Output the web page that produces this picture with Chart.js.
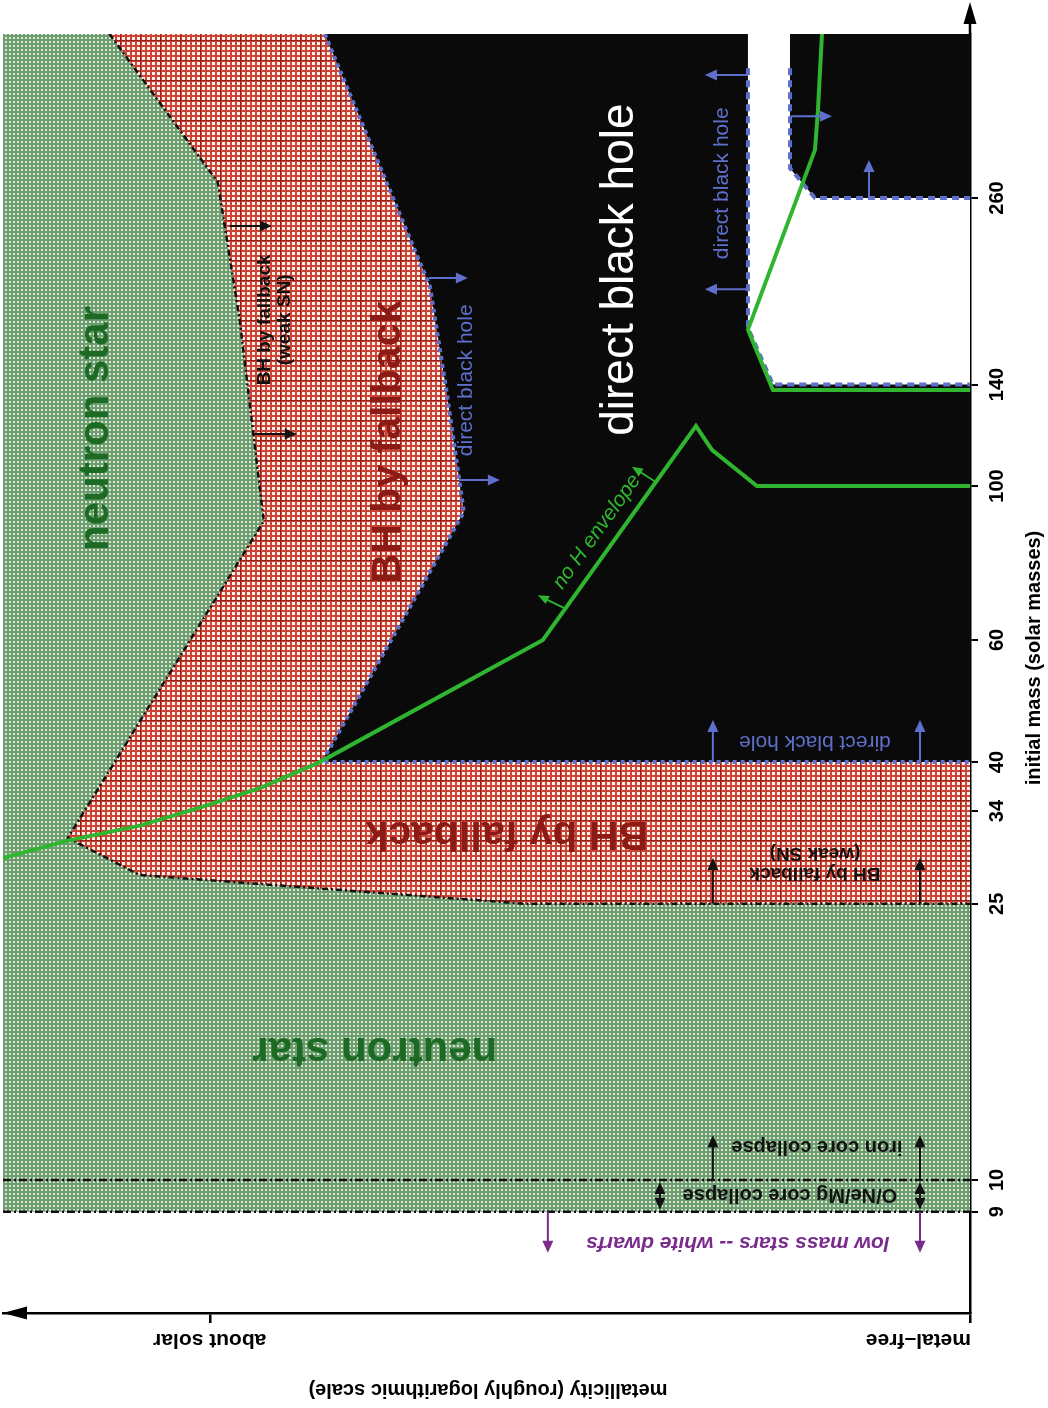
<!DOCTYPE html>
<html>
<head>
<meta charset="utf-8">
<script src="https://cdn.jsdelivr.net/npm/chart.js@4.4.1/dist/chart.umd.min.js"></script>
<style>
  html, body { margin: 0; padding: 0; background: #ffffff; }
  canvas { display: block; }
</style>
</head>
<body>
<canvas id="remnants" width="1048" height="1408"></canvas>
<script>
// ---- axes ---------------------------------------------------------------
// initial mass (solar masses), log axis
const massTicks = [9, 10, 25, 34, 40, 60, 100, 140, 260];
const MASS_MIN = 6.43;
const MASS_MAX = 448;
// metallicity: 0 = metal-free, 1 = about solar (roughly logarithmic)
const metallicityTicks = [0, 1];
const metallicityTickLabels = ['metal\u2013free', 'about solar'];
const Z_MAX = 1.272;

// ---- region boundaries, [metallicity, initial mass] -----------------------
// neutron star | BH by fallback
const neutronStarEdge = [
  [1.132, 448], [0.9895, 274], [0.9605, 173], [0.9290, 89],
  [1.1868, 31.1], [1.0921, 27.5], [0.5855, 25], [0, 25]
];
// BH by fallback | direct black hole
const directCollapseEdge = [
  [0.8487, 448], [0.7329, 222], [0.7105, 194], [0.6882, 136],
  [0.6658, 91.7], [0.8526, 40], [0, 40]
];
// pair-instability window (no remnant)
const pairInstabilityLow = [[0.2921, 448], [0.2921, 169], [0.2592, 140], [0, 140]];
const pairInstabilityHigh = [[0.2368, 448], [0.2368, 287], [0.2039, 260], [0, 260]];
const pairInstabilityDashTop = 400;
// lowest masses for O/Ne/Mg and iron core collapse
const coreCollapseLimits = [9, 10];
// loss of the hydrogen envelope
const hEnvelopeLow = [
  [1.272, 29.1], [1.1882, 30.8], [1.0921, 32.4], [1.0132, 34.4], [0.9342, 36.7],
  [0.8553, 40], [0.5618, 60], [0.3605, 122], [0.3395, 112.7], [0.2803, 100], [0, 100]
];
const hEnvelopeHigh = [
  [0.1947, 448], [0.2, 348], [0.2039, 305], [0.2921, 168], [0.2592, 137.5], [0, 137.5]
];

// ---- colours ----------------------------------------------------------------
const INK = '#111111';
const BLUE = '#5f70cc';
const PURPLE = '#7a2c8c';
const LINE_GREEN = '#2fb52f';
const NS_GREEN = '#1c6a24';
const FB_RED = '#8c1b16';
const FONT = '"Liberation Sans", Arial, Helvetica, sans-serif';

// ---- annotations (positions in metallicity / mass) --------------------------
const arrowMarks = [
  { from: [0.9737, 237], to: [0.9184, 237], color: INK },
  { from: [0.9421, 118.8], to: [0.8855, 118.8], color: INK },
  { from: [0.7118, 199.4], to: [0.6605, 199.4], color: BLUE },
  { from: [0.6718, 102], to: [0.6184, 102], color: BLUE },
  { from: [0.2921, 391], to: [0.3487, 391], color: BLUE },
  { from: [0.2921, 192], to: [0.3487, 192], color: BLUE },
  { from: [0.2355, 341], to: [0.1816, 341], color: BLUE },
  { from: [0.1329, 260], to: [0.1329, 295], color: BLUE },
  { from: [0.3382, 40], to: [0.3382, 46], color: BLUE },
  { from: [0.0658, 40], to: [0.0658, 46], color: BLUE },
  { from: [0.3382, 25], to: [0.3382, 29.1], color: INK },
  { from: [0.0658, 25], to: [0.0658, 29.1], color: INK },
  { from: [0.3382, 10], to: [0.3382, 11.6], color: INK },
  { from: [0.0658, 10], to: [0.0658, 11.6], color: INK },
  { from: [0.4079, 9.06], to: [0.4079, 9.93], color: INK, both: true },
  { from: [0.0658, 9.06], to: [0.0658, 9.93], color: INK, both: true },
  { from: [0.5553, 9], to: [0.5553, 7.85], color: PURPLE },
  { from: [0.0658, 9], to: [0.0658, 7.85], color: PURPLE },
  { from: [0.5316, 66.5], to: [0.5685, 69.6], color: LINE_GREEN, small: true },
  { from: [0.4132, 101.3], to: [0.4447, 106.6], color: LINE_GREEN, small: true }
];

const regionLabels = [
  { lines: ['neutron star'], at: [1.1487, 121], rot: -90, font: 'bold 42px', color: NS_GREEN },
  { lines: ['neutron star'], at: [0.7829, 15.4], rot: 180, font: 'bold 42px', color: NS_GREEN },
  { lines: ['BH by fallback'], at: [0.7645, 115.7], rot: -90, font: 'bold 41px', color: FB_RED },
  { lines: ['BH by fallback'], at: [0.6092, 31.6], rot: 180, font: 'bold 41px', color: FB_RED },
  { lines: ['direct black hole'], at: [0.4605, 205], rot: -90, font: '46px', color: '#ffffff' },
  { lines: ['BH by fallback', '(weak SN)'], at: [0.9145, 173.5], rot: -90, font: 'bold 19px', color: INK, lh: 20 },
  { lines: ['BH by fallback', '(weak SN)'], at: [0.2039, 28.6], rot: 180, font: 'bold 19px', color: INK, lh: 20 },
  { lines: ['direct black hole'], at: [0.6632, 142], rot: -90, font: '21px', color: BLUE },
  { lines: ['direct black hole'], at: [0.3263, 273], rot: -90, font: '21px', color: BLUE },
  { lines: ['direct black hole'], at: [0.2039, 42.8], rot: 180, font: '21px', color: BLUE },
  { lines: ['iron core collapse'], at: [0.2013, 11.16], rot: 180, font: 'bold 20px', color: INK },
  { lines: ['O/Ne/Mg core collapse'], at: [0.2368, 9.515], rot: 180, font: 'bold 20px', color: INK },
  { lines: ['low mass stars -- white dwarfs'], at: [0.3053, 8.115], rot: 180, font: 'italic bold 21px', color: PURPLE },
  { lines: ['no H envelope'], at: [0.4908, 85.9], rot: 'alongEnvelope', font: 'italic 21px', color: LINE_GREEN }
];

// ---- fills ------------------------------------------------------------------
const canvas = document.getElementById('remnants');
const mainCtx = canvas.getContext('2d');

function makePattern(size, paint) {
  const tile = document.createElement('canvas');
  tile.width = tile.height = size;
  paint(tile.getContext('2d'));
  return mainCtx.createPattern(tile, 'repeat');
}
const neutronStarFill = makePattern(4, g => {
  g.fillStyle = 'rgb(108,158,118)';
  g.fillRect(0, 0, 4, 4);
  g.fillStyle = 'rgb(226,230,196)';
  g.fillRect(1, 1, 2, 2);
});
const fallbackFill = makePattern(20, g => {
  g.fillStyle = 'rgb(204,68,54)';
  g.fillRect(0, 0, 20, 20);
  g.fillStyle = 'rgb(255,240,234)';
  for (let i = 0; i < 4; i++) for (let j = 0; j < 4; j++) g.fillRect(i * 5 + 2, j * 5 + 2, 3, 3);
  g.fillStyle = 'rgb(150,32,26)';
  g.fillRect(0, 0, 1, 20);
  g.fillRect(0, 0, 20, 1);
});

const pts = arr => arr.map(([z, m]) => ({ x: z, y: m }));

const neutronStarShape = [[Z_MAX, coreCollapseLimits[0]], [Z_MAX, MASS_MAX], [0, MASS_MAX], [0, coreCollapseLimits[0]]];
const fallbackShape = [...neutronStarEdge, ...directCollapseEdge.slice().reverse()];
const directShape = [...directCollapseEdge, [0, MASS_MAX]];
const pairShape = [...pairInstabilityLow, ...pairInstabilityHigh.slice().reverse()];
const withDashTop = edge => [[edge[0][0], pairInstabilityDashTop], ...edge.slice(1)];

const area = (label, data, color, order) => ({
  label, data: pts(data), fill: 'shape', backgroundColor: color, borderWidth: 0, order
});
const curve = (label, data, color, width, dash, order) => ({
  label, data: pts(data), fill: false, borderColor: color, borderWidth: width,
  borderDash: dash, borderCapStyle: 'butt', borderJoinStyle: 'miter', order
});

const datasets = [
  area('neutron star', neutronStarShape, neutronStarFill, 20),
  area('BH by fallback', fallbackShape, fallbackFill, 19),
  area('direct black hole', directShape, '#0a0a0a', 18),
  area('pair instability', pairShape, '#ffffff', 17),
  ...coreCollapseLimits.map(m => curve('limit ' + m, [[Z_MAX, m], [0, m]], INK, 2.5, [8, 3, 2, 3], 10)),
  curve('neutron star edge', neutronStarEdge, INK, 2.5, [6, 3, 2, 3], 9),
  curve('direct collapse edge', directCollapseEdge, BLUE, 4, [4, 4], 8),
  curve('pair instability low edge', withDashTop(pairInstabilityLow), BLUE, 4, [7, 5], 7),
  curve('pair instability high edge', withDashTop(pairInstabilityHigh), BLUE, 4, [7, 5], 7),
  curve('H envelope low', hEnvelopeLow, LINE_GREEN, 4, [], 2),
  curve('H envelope high', hEnvelopeHigh, LINE_GREEN, 4, [], 2)
];

// ---- drawing helpers ----------------------------------------------------------
function drawText(ctx, lines, x, y, rad, font, color, lh, align) {
  ctx.save();
  ctx.translate(x, y);
  ctx.rotate(rad);
  ctx.font = font;
  ctx.fillStyle = color;
  ctx.textAlign = align || 'center';
  ctx.textBaseline = 'middle';
  const n = lines.length;
  lines.forEach((s, i) => ctx.fillText(s, 0, (i - (n - 1) / 2) * (lh || 0)));
  ctx.restore();
}

function head(ctx, x, y, ang, len, half) {
  ctx.beginPath();
  ctx.moveTo(x, y);
  ctx.lineTo(x - len * Math.cos(ang) - half * Math.sin(ang), y - len * Math.sin(ang) + half * Math.cos(ang));
  ctx.lineTo(x - len * Math.cos(ang) + half * Math.sin(ang), y - len * Math.sin(ang) - half * Math.cos(ang));
  ctx.closePath();
  ctx.fill();
}

function drawArrow(ctx, x1, y1, x2, y2, color, both, small) {
  const ang = Math.atan2(y2 - y1, x2 - x1);
  const len = small ? 11 : 12;
  const half = small ? 4.5 : 5.5;
  ctx.save();
  ctx.strokeStyle = color;
  ctx.fillStyle = color;
  ctx.lineWidth = small ? 1.8 : 2;
  ctx.beginPath();
  ctx.moveTo(both ? x1 + len * 0.6 * Math.cos(ang) : x1, both ? y1 + len * 0.6 * Math.sin(ang) : y1);
  ctx.lineTo(x2 - len * 0.6 * Math.cos(ang), y2 - len * 0.6 * Math.sin(ang));
  ctx.stroke();
  head(ctx, x2, y2, ang, len, half);
  if (both) head(ctx, x1, y1, ang + Math.PI, len, half);
  ctx.restore();
}

const overlay = {
  id: 'overlay',
  afterDatasetsDraw(chart) {
    const { ctx, scales: { x, y } } = chart;
    const px = z => x.getPixelForValue(z);
    const py = m => y.getPixelForValue(m);
    arrowMarks.forEach(a => drawArrow(ctx, px(a.from[0]), py(a.from[1]), px(a.to[0]), py(a.to[1]), a.color, a.both, a.small));
    const a = hEnvelopeLow[6], b = hEnvelopeLow[7];
    const envAngle = Math.atan2(py(b[1]) - py(a[1]), px(b[0]) - px(a[0]));
    regionLabels.forEach(l => {
      const rad = l.rot === 'alongEnvelope' ? envAngle : l.rot * Math.PI / 180;
      drawText(ctx, l.lines, px(l.at[0]), py(l.at[1]), rad, l.font + ' ' + FONT, l.color, l.lh);
    });
  },
  afterDraw(chart) {
    const { ctx, chartArea: ca, scales: { x } } = chart;
    ctx.save();
    ctx.fillStyle = '#000';
    ctx.strokeStyle = '#000';
    ctx.lineWidth = 2.5;
    // arrow on the mass axis
    ctx.beginPath();
    ctx.moveTo(ca.right, ca.top);
    ctx.lineTo(ca.right, 16);
    ctx.stroke();
    head(ctx, ca.right, 2, -Math.PI / 2, 22, 6.5);
    // arrow on the metallicity axis
    head(ctx, ca.left, ca.bottom, Math.PI, 24, 6.5);
    ctx.restore();
    // metallicity tick labels
    const font = 'bold 21px ' + FONT;
    drawText(ctx, [metallicityTickLabels[1]], x.getPixelForValue(metallicityTicks[1]), ca.bottom + 27, Math.PI, font, '#000');
    drawText(ctx, [metallicityTickLabels[0]], x.getPixelForValue(metallicityTicks[0]) + 1, ca.bottom + 27, Math.PI, font, '#000', 0, 'left');
    // axis titles
    drawText(ctx, ['metallicity (roughly logarithmic scale)'], 488, ca.bottom + 77, Math.PI, 'bold 20px ' + FONT, '#000');
    drawText(ctx, ['initial mass (solar masses)'], ca.right + 64, 658, -Math.PI / 2, 'bold 20px ' + FONT, '#000');
  }
};

new Chart(mainCtx, {
  type: 'line',
  data: { datasets },
  options: {
    responsive: false,
    animation: false,
    devicePixelRatio: 1,
    events: [],
    layout: { padding: { left: 3, top: 34, right: 0, bottom: 0 } },
    elements: { point: { radius: 0, hoverRadius: 0 }, line: { tension: 0 } },
    plugins: { legend: { display: false }, tooltip: { enabled: false } },
    scales: {
      x: {
        type: 'linear', position: 'bottom', reverse: true, min: 0, max: Z_MAX, z: 1,
        afterBuildTicks: s => { s.ticks = metallicityTicks.map(v => ({ value: v })); },
        afterFit: s => { s.height = 95; },
        ticks: { display: false },
        grid: { display: true, drawOnChartArea: false, drawTicks: true, tickLength: 10, color: '#000', lineWidth: 2.5 },
        border: { display: true, color: '#000', width: 2.5 }
      },
      y: {
        type: 'logarithmic', position: 'right', min: MASS_MIN, max: MASS_MAX, z: 1,
        afterBuildTicks: s => { s.ticks = massTicks.map(v => ({ value: v })); },
        afterFit: s => { s.width = 78; },
        ticks: {
          autoSkip: false, minRotation: 90, maxRotation: 90, crossAlign: 'center', padding: 3,
          color: '#000', font: { family: FONT, size: 20, weight: 'bold' },
          callback: v => String(v)
        },
        grid: { display: true, drawOnChartArea: false, drawTicks: true, tickLength: 8, color: '#000', lineWidth: 2 },
        border: { display: true, color: '#000', width: 2.5 }
      }
    }
  },
  plugins: [overlay]
});
</script>
</body>
</html>
